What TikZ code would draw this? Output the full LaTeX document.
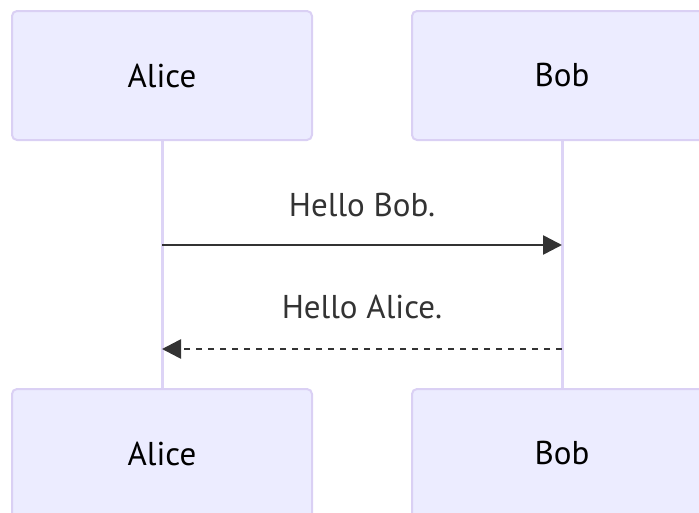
\documentclass[tikz,border=0pt]{standalone}
\usepackage{fontspec}
\setmainfont{PT Sans}
\usetikzlibrary{arrows.meta}
\definecolor{actfill}{HTML}{ECECFF}
\definecolor{actline}{HTML}{DAD0F4}
\definecolor{lifecol}{HTML}{DDD4F6}
\definecolor{msgcol}{HTML}{333333}
\tikzset{
  actor/.style={draw=actline, fill=actfill, line width=2pt, rounded corners=5pt,
    minimum width=300pt, minimum height=129pt, inner sep=0pt,
    font=\fontsize{33}{38}\selectfont, text=black},
  lifeline/.style={draw=lifecol, line width=3pt},
  msg/.style={draw=msgcol, line width=2.6pt, -{Triangle[length=19pt,width=19pt]}},
  msgdash/.style={msg, dash pattern=on 6pt off 6pt},
  msglabel/.style={font=\fontsize{33}{38}\selectfont, text=msgcol, inner sep=0pt}
}
\begin{document}
\begin{tikzpicture}[x=1pt,y=-1pt]
\useasboundingbox (0,0) rectangle (699,512);
\begin{scope}
\clip (0,0) rectangle (699,512);
\coordinate (a1) at (162,140);
\coordinate (a2) at (162,389);
\coordinate (b1) at (562,140);
\coordinate (b2) at (562,389);
\draw[lifeline] (a1) -- (a2);
\draw[lifeline] (b1) -- (b2);
\node[actor] (alicetop) at (162,75.5) {Alice};
\node[actor] (bobtop) at (562,75.5) {Bob};
\node[actor] (alicebot) at (162,453.5) {Alice};
\node[actor] (bobbot) at (562,453.5) {Bob};
\coordinate (m1s) at (162,245);
\coordinate (m1e) at (562,245);
\coordinate (m2s) at (562,349);
\coordinate (m2e) at (162,349);
\draw[msg] (m1s) -- (m1e);
\draw[msgdash] (m2s) -- (m2e);
\node[msglabel] (l1) at (362,205) {Hello Bob.};
\node[msglabel] (l2) at (362,307) {Hello Alice.};
\end{scope}
\end{tikzpicture}
\end{document}
